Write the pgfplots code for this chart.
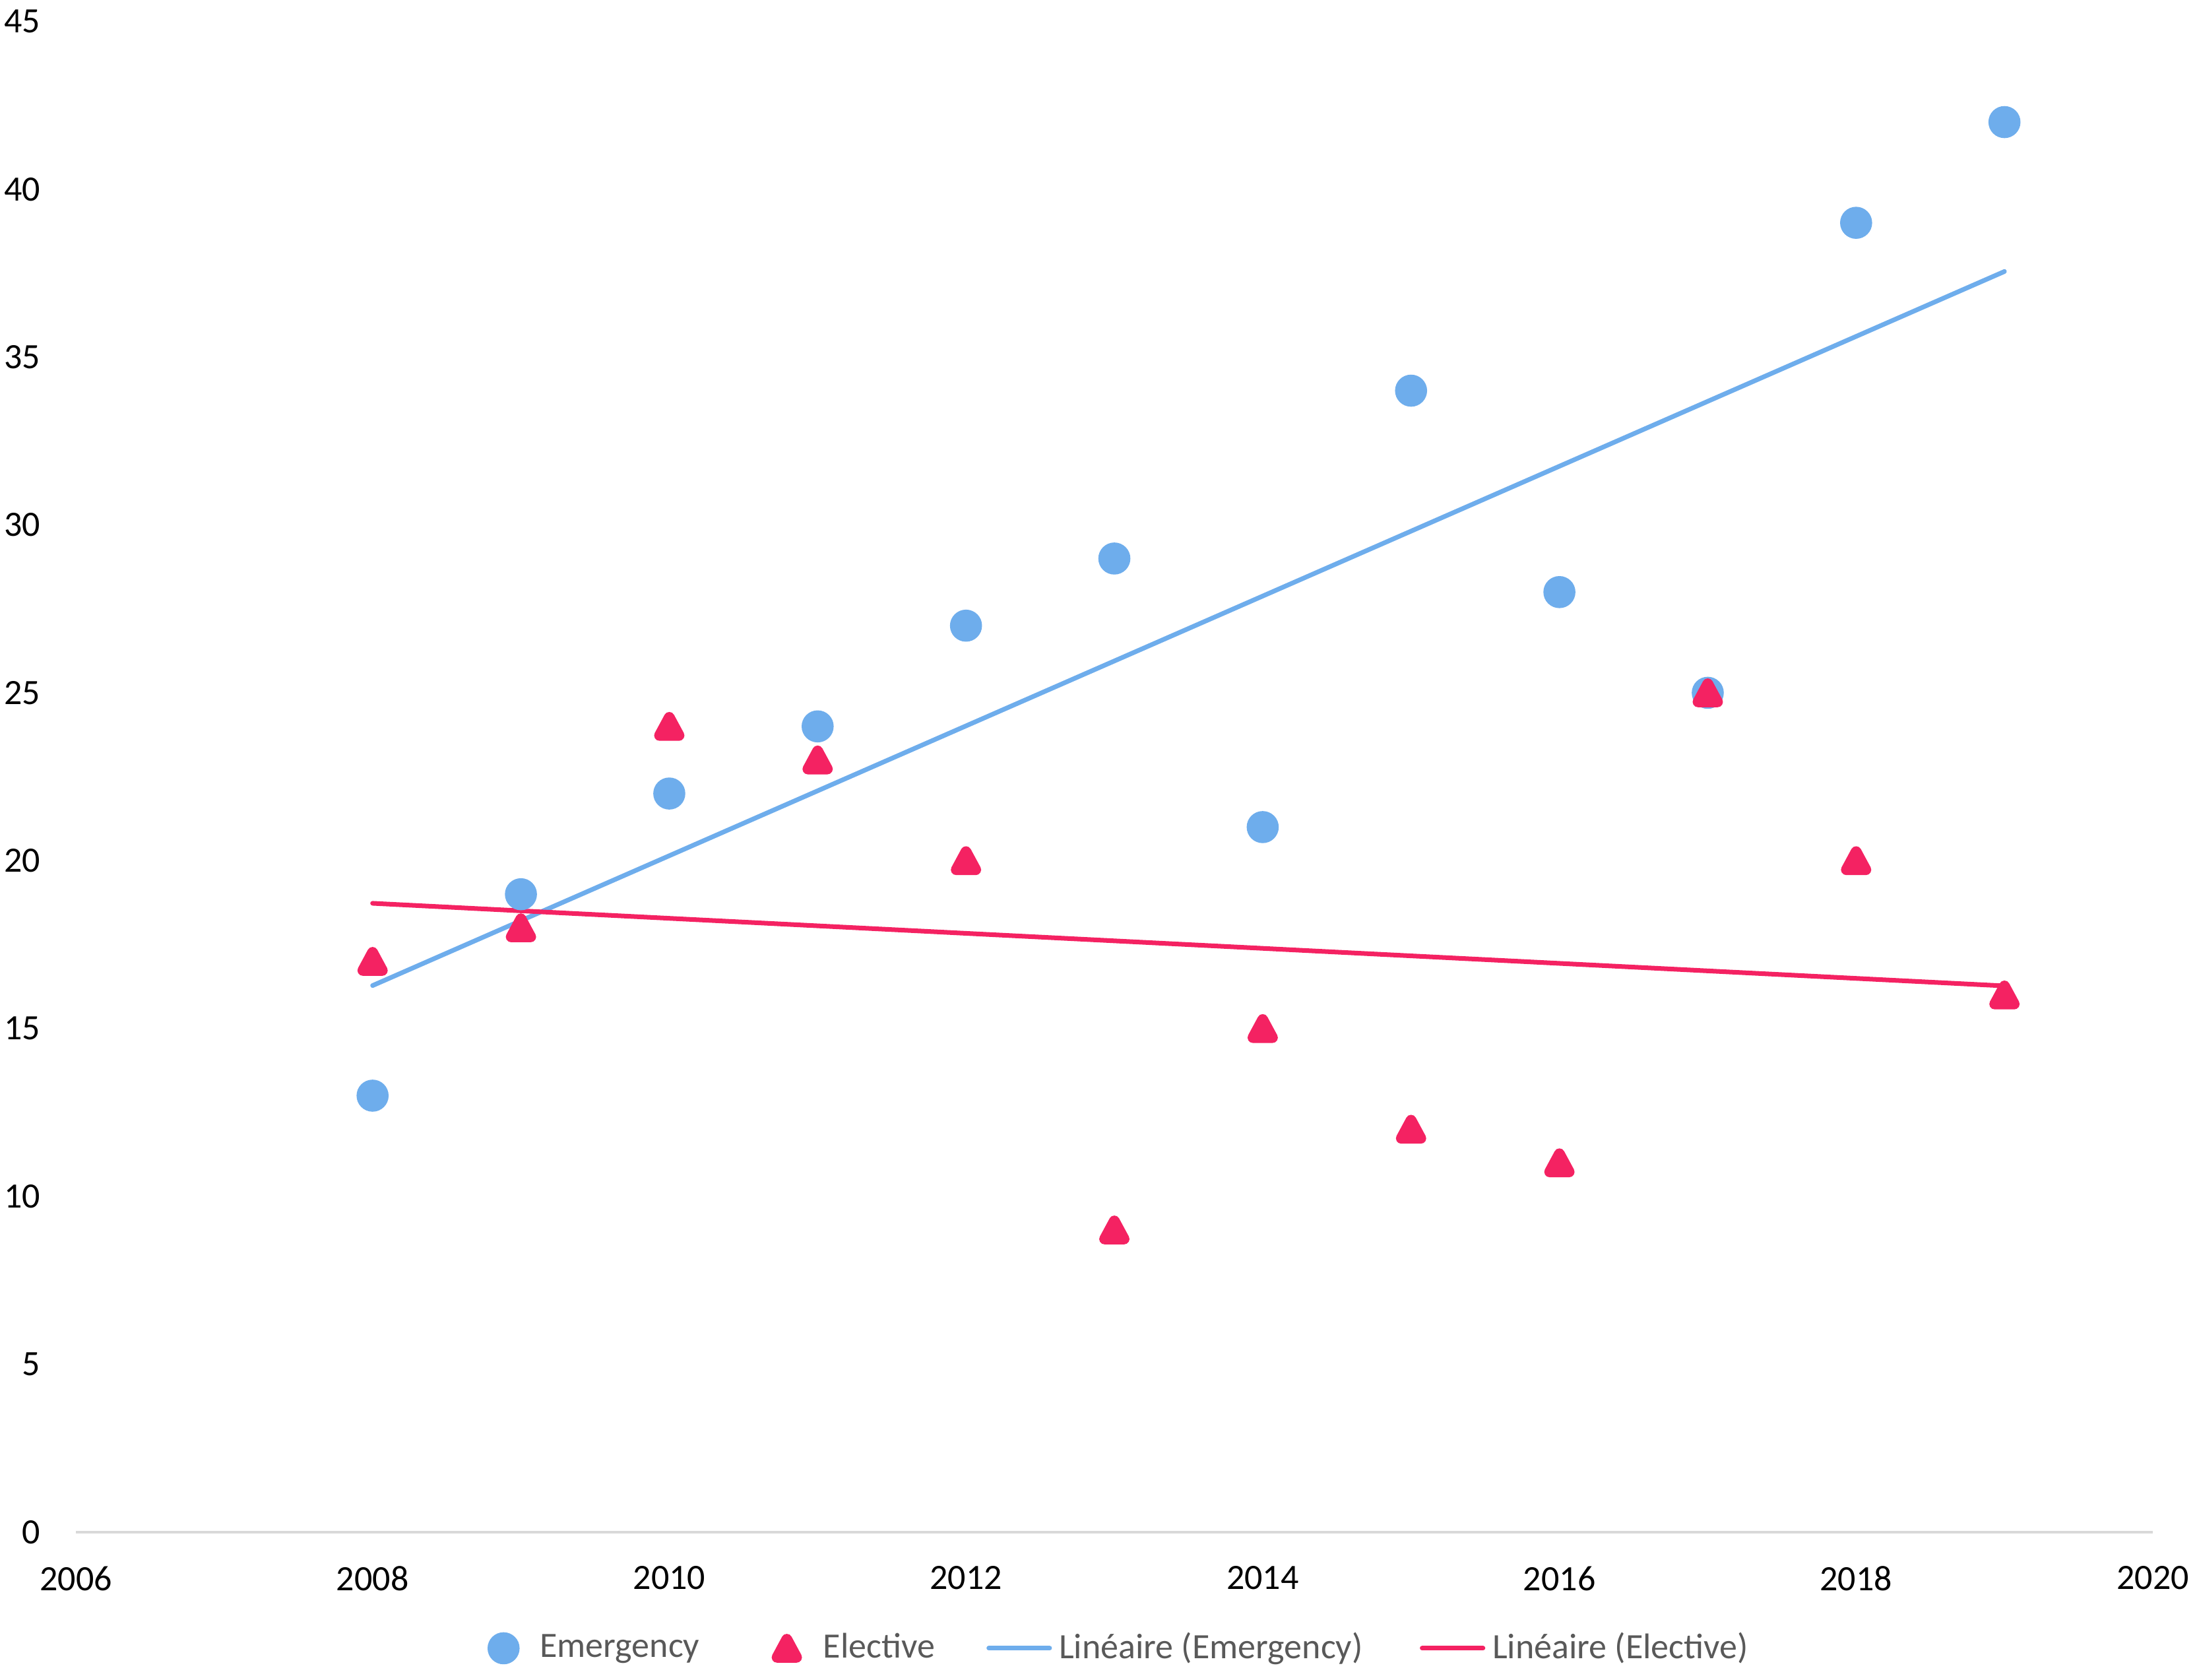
\documentclass[border=0pt]{standalone}
\usepackage{pgfplots}
\pgfplotsset{compat=1.18}
\usepackage{fontspec}
\setmainfont{Carlito}
\definecolor{emblue}{HTML}{6EADEC}
\definecolor{elred}{HTML}{F42262}
\definecolor{axgray}{HTML}{D9D9D9}
\definecolor{leggray}{HTML}{595959}
\pgfdeclareplotmark{rtri}{%
  \pgfsetlinewidth{3pt}%
  \pgfsetroundjoin
  \pgfsetstrokecolor{elred}%
  \pgfsetfillcolor{elred}%
  \pgfpathmoveto{\pgfpoint{0pt}{2.55pt}}%
  \pgfpathlineto{\pgfpoint{2.75pt}{-2.55pt}}%
  \pgfpathlineto{\pgfpoint{-2.75pt}{-2.55pt}}%
  \pgfpathclose
  \pgfusepathqfillstroke}
\pgfplotsset{markleg/.style={legend image code/.code={%
  \path[draw=none,fill=none] (-4.5pt,0pt) -- (8.2pt,0pt);
  \draw[##1] plot coordinates {(0pt,0pt)};}}}
\begin{document}
\begin{tikzpicture}
\useasboundingbox (-21.3pt,-41.5pt) rectangle (595.4pt,430.0pt);
\begin{axis}[
  at={(0pt,0pt)}, anchor=south west,
  scale only axis, width=583pt, height=424pt,
  xmin=2006, xmax=2020, ymin=0, ymax=45,
  xtick={2006,2008,...,2020}, ytick={0,5,...,45},
  axis x line=bottom, axis y line=left,
  x axis line style={draw=axgray, line width=0.7pt, -},
  y axis line style={draw=none},
  major tick length=0pt,
  tick style={draw=none},
  /pgf/number format/1000 sep={},
  /pgf/number format/assume math mode=true,
  ticklabel style={font=\normalsize, text=black},
  xticklabel style={inner sep=0pt, anchor=north, yshift=-9.4pt},
  yticklabel style={inner sep=0pt, anchor=east, xshift=-9.8pt},
  clip=false,
  legend style={at={(0.5,-0.0769)}, anchor=center, xshift=2pt,
    draw=none, fill=none,
    legend columns=4, font=\normalsize, text=leggray,
    /tikz/column 2/.style={column sep=18pt},
    /tikz/column 4/.style={column sep=12.5pt},
    /tikz/column 6/.style={column sep=14pt}},
  legend cell align=left,
]
\addplot[color=emblue, only marks, mark=*, mark size=4.3pt,
  mark options={fill=emblue, draw=emblue}, markleg]
  coordinates {(2008,13)(2009,19)(2010,22)(2011,24)(2012,27)(2013,29)
               (2014,21)(2015,34)(2016,28)(2017,25)(2018,39)(2019,42)};
\addlegendentry{Emergency}
\addplot[color=elred, only marks, mark=rtri,
  mark options={fill=elred, draw=elred}, markleg]
  coordinates {(2008,17)(2009,18)(2010,24)(2011,23)(2012,20)(2013,9)
               (2014,15)(2015,12)(2016,11)(2017,25)(2018,20)(2019,16)};
\addlegendentry{Elective}
\addplot[emblue, line width=1.3pt, line cap=round, no marks]
  coordinates {(2008,16.28)(2019,37.55)};
\addlegendentry{Linéaire (Emergency)}
\addplot[elred, line width=1.3pt, line cap=round, no marks]
  coordinates {(2008,18.73)(2019,16.27)};
\addlegendentry{Linéaire (Elective)}
\end{axis}
\end{tikzpicture}
\end{document}
